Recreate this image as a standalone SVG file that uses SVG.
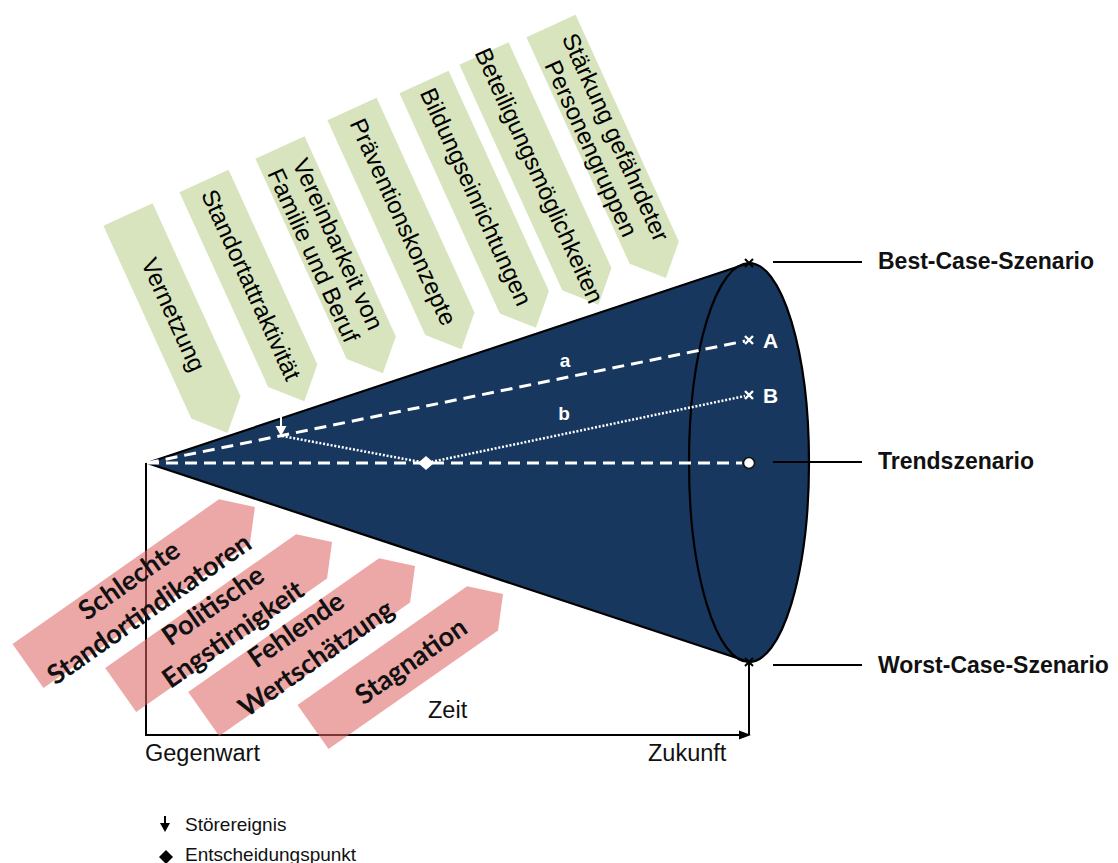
<svg xmlns="http://www.w3.org/2000/svg" width="1118" height="863" viewBox="0 0 1118 863">
  <style>
    .green { fill: #d7e4bd; }
    .gtxt { font-family: "Liberation Sans", Arial, sans-serif; font-size: 24px; fill: #000; text-anchor: middle; dominant-baseline: central; }
    .pink { fill: #dc5f5f; fill-opacity: 0.55; }
    .ptxt { font-family: Lato, "Open Sans", sans-serif; font-weight: bold; font-size: 27px; fill: #111; text-anchor: middle; dominant-baseline: central; }
    .cone { fill: #17375e; }
    .edge { fill: none; stroke: #000; stroke-width: 2.2; }
    .dash { fill: none; stroke: #fff; stroke-width: 3; stroke-dasharray: 12 7; }
    .dot { fill: none; stroke: #fff; stroke-width: 2.5; stroke-dasharray: 2 1.8; }
    .mark { stroke: #fff; stroke-width: 2.4; }
    .bmark { stroke: #000; stroke-width: 2; }
    .inlbl { font-family: "Liberation Sans", Arial, sans-serif; font-weight: bold; fill: #fff; }
    .axis { fill: none; stroke: #000; stroke-width: 2; }
    .lead { stroke: #000; stroke-width: 2; }
    .scen { font-family: "Liberation Sans", Arial, sans-serif; font-weight: bold; font-size: 23px; fill: #111; }
    .time { font-family: "Liberation Sans", Arial, sans-serif; font-size: 23.5px; fill: #111; }
    .leg { font-family: "Liberation Sans", Arial, sans-serif; font-size: 19px; fill: #111; }
  </style>

  <!-- positive factors (green tags pointing into the cone) -->
  <g id="factor-vernetzung" transform="translate(128,214.5) rotate(65.5)">
    <polygon class="green" points="0,-27 212,-27 240,0 212,27 0,27"/>
    <text class="gtxt" x="110" y="0">Vernetzung</text>
  </g>
  <g id="factor-standortattraktivitaet" transform="translate(204,181) rotate(65.5)">
    <polygon class="green" points="0,-27 214,-27 242,0 214,27 0,27"/>
    <text class="gtxt" x="114" y="0">Standortattraktivität</text>
  </g>
  <g id="factor-vereinbarkeit" transform="translate(280,147.5) rotate(65.5)">
    <polygon class="green" points="0,-27 220,-27 248,0 220,27 0,27"/>
    <text class="gtxt" x="112" y="-13">Vereinbarkeit von</text>
    <text class="gtxt" x="112" y="14">Familie und Beruf</text>
  </g>
  <g id="factor-praevention" transform="translate(352,109) rotate(65.5)">
    <polygon class="green" points="0,-27 236,-27 264,0 236,27 0,27"/>
    <text class="gtxt" x="124" y="0">Präventionskonzepte</text>
  </g>
  <g id="factor-bildung" transform="translate(424,82) rotate(65.5)">
    <polygon class="green" points="0,-27 242,-27 270,0 242,27 0,27"/>
    <text class="gtxt" x="126" y="0">Bildungseinrichtungen</text>
  </g>
  <g id="factor-beteiligung" transform="translate(484,53.5) rotate(65.5)">
    <polygon class="green" points="0,-27 248,-27 276,0 248,27 0,27"/>
    <text class="gtxt" x="134" y="0">Beteiligungsmöglichkeiten</text>
  </g>
  <g id="factor-staerkung" transform="translate(551,26) rotate(65.5)">
    <polygon class="green" points="0,-27 249,-27 277,0 249,27 0,27"/>
    <text class="gtxt" x="128" y="-13">Stärkung gefährdeter</text>
    <text class="gtxt" x="128" y="14">Personengruppen</text>
  </g>

  <!-- scenario cone -->
  <g id="cone">
    <path class="cone" d="M147,463 L749,263 A60,199.5 0 0 1 749,662 Z"/>
    <path class="edge" d="M147,463 L749,263 M147,463 L749,662"/>
    <ellipse class="edge" cx="749" cy="462.5" rx="60" ry="199.5"/>
    <path class="bmark" d="M745,259 L753,267 M753,259 L745,267 M745,658 L753,666 M753,658 L745,666"/>
  </g>

  <!-- paths through the cone, time axis and scenario leaders -->
  <g id="connectors">
    <path class="dash" d="M147,463 L742,463"/>
    <path class="dash" d="M147,463 L745,341"/>
    <path class="dot" d="M282,436 L426,463 L745,396"/>
    <path class="mark" d="M745,336 L753,344 M753,336 L745,344 M745,391 L753,399 M753,391 L745,399"/>
    <circle cx="749" cy="463" r="5.5" fill="#fff" stroke="#111" stroke-width="1.5"/>
    <line x1="281" y1="417" x2="281" y2="428" stroke="#fff" stroke-width="2"/>
    <polygon points="275.5,426 286.5,426 281,436" fill="#fff"/>
    <polygon points="418,463 426,456 434,463 426,470" fill="#fff"/>
    <text class="inlbl" x="565" y="367" font-size="19" text-anchor="middle">a</text>
    <text class="inlbl" x="564" y="420" font-size="19" text-anchor="middle">b</text>
    <text class="inlbl" x="763" y="348" font-size="21">A</text>
    <text class="inlbl" x="763" y="403" font-size="21">B</text>

    <path class="axis" d="M146,463 V735 H741"/>
    <line class="axis" x1="749" y1="662" x2="749" y2="735"/>
    <polygon points="739,730.5 751,735 739,739.5" fill="#000"/>

    <line class="lead" x1="773" y1="262" x2="862" y2="262"/>
    <line class="lead" x1="773" y1="462" x2="862" y2="462"/>
    <line class="lead" x1="773" y1="665" x2="862" y2="665"/>
  </g>

  <!-- negative factors (translucent red arrows) -->
  <g id="threat-standortindikatoren" transform="translate(28,666) rotate(-35)">
    <polygon class="pink" points="0,-27 252,-27 277,0 252,27 0,27"/>
    <text class="ptxt" x="132" y="-13.5">Schlechte</text>
    <text class="ptxt" x="132" y="21.5">Standortindikatoren</text>
  </g>
  <g id="threat-engstirnigkeit" transform="translate(120.7,690) rotate(-35)">
    <polygon class="pink" points="0,-27 233,-27 258,0 233,27 0,27"/>
    <text class="ptxt" x="124" y="-17.5">Politische</text>
    <text class="ptxt" x="124" y="17.5">Engstirnigkeit</text>
  </g>
  <g id="threat-wertschaetzung" transform="translate(203.7,714) rotate(-35)">
    <polygon class="pink" points="0,-27 233,-27 258,0 233,27 0,27"/>
    <text class="ptxt" x="124" y="-17.5">Fehlende</text>
    <text class="ptxt" x="124" y="17.5">Wertschätzung</text>
  </g>
  <g id="threat-stagnation" transform="translate(313,727) rotate(-35)">
    <polygon class="pink" points="0,-27 207,-27 232,0 207,27 0,27"/>
    <text class="ptxt" x="118" y="1">Stagnation</text>
  </g>

  <!-- scenario labels -->
  <g id="label-best"><text class="scen" x="878" y="269">Best-Case-Szenario</text></g>
  <g id="label-trend"><text class="scen" x="878" y="469">Trendszenario</text></g>
  <g id="label-worst"><text class="scen" x="878" y="673">Worst-Case-Szenario</text></g>

  <!-- time labels -->
  <g id="label-zeit"><text class="time" x="428" y="718">Zeit</text></g>
  <g id="label-gegenwart"><text class="time" x="145" y="761">Gegenwart</text></g>
  <g id="label-zukunft"><text class="time" x="648" y="761">Zukunft</text></g>

  <!-- legend -->
  <g id="legend">
    <line x1="165" y1="816" x2="165" y2="825" stroke="#000" stroke-width="2"/>
    <polygon points="160,823 170,823 165,832" fill="#000"/>
    <text class="leg" x="185" y="831">Störereignis</text>
    <polygon points="159,857 166,850 173,857 166,864" fill="#000"/>
    <text class="leg" x="185" y="861">Entscheidungspunkt</text>
  </g>
</svg>
